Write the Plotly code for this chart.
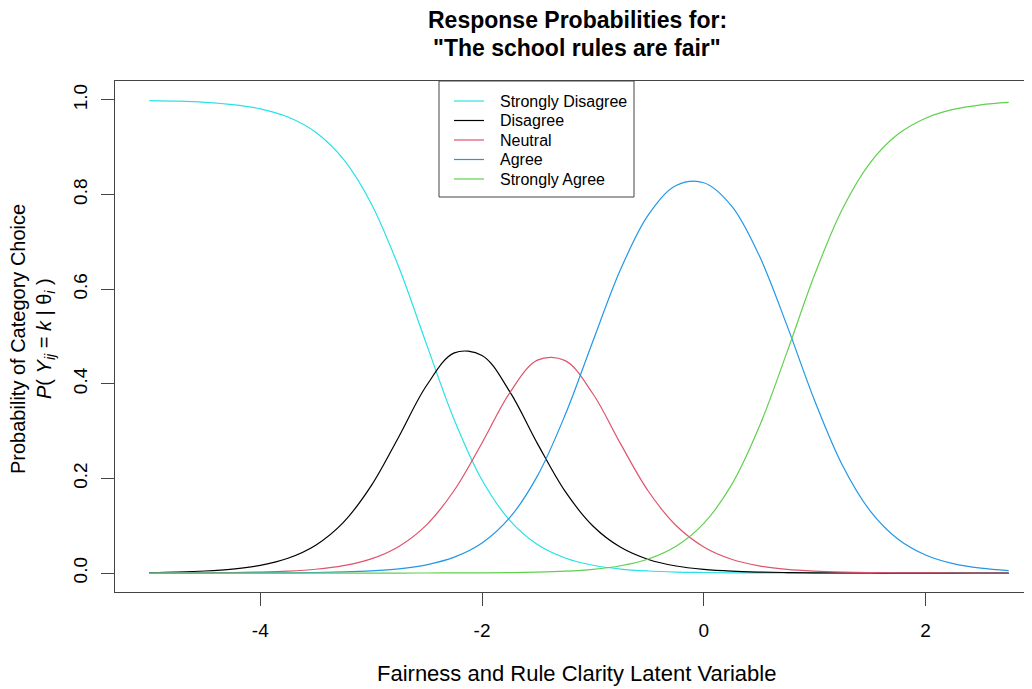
import plotly.graph_objects as go

# ---- data ----
categories = ["Strongly Disagree", "Disagree", "Neutral", "Agree", "Strongly Agree"]
colors = ["#28E2E5", "#000000", "#DF536B", "#2297E6", "#61D04F"]

theta = [-5.0, -4.75, -4.5, -4.25, -4.0, -3.75, -3.5, -3.25, -3.0, -2.75, -2.5, -2.25,
         -2.0, -1.75, -1.5, -1.25, -1.0, -0.75, -0.5, -0.25, 0.0, 0.25, 0.5, 0.75,
         1.0, 1.25, 1.5, 1.75, 2.0, 2.25, 2.5, 2.75]

strongly_disagree = [0.99868, 0.99743, 0.9950, 0.99027, 0.98116, 0.96383, 0.93168, 0.8747,
                     0.7812, 0.6463, 0.4833, 0.3237, 0.1967, 0.1114, 0.0602, 0.0318,
                     0.0165, 0.0085, 0.0044, 0.0022, 0.0012, 0.0006, 0.0003, 0.00015,
                     0.0001, 0.00004, 0.00002, 0.00001, 0.0, 0.0, 0.0, 0.0]
disagree = [0.00115, 0.00224, 0.00436, 0.00848, 0.01639, 0.03139, 0.05903, 0.1073,
            0.1842, 0.2883, 0.3964, 0.4653, 0.4599, 0.3834, 0.2736, 0.1725,
            0.0995, 0.0544, 0.0288, 0.0150, 0.0078, 0.0040, 0.0021, 0.0011,
            0.0005, 0.0003, 0.00014, 0.00007, 0.00004, 0.00002, 0.00001, 0.00001]
neutral = [0.00015, 0.00029, 0.00056, 0.00109, 0.00213, 0.00415, 0.00806, 0.01557,
           0.02991, 0.05635, 0.1020, 0.1750, 0.2750, 0.3810, 0.4500, 0.4490,
           0.3790, 0.2730, 0.1730, 0.1005, 0.0553, 0.0293, 0.0153, 0.0079,
           0.0041, 0.0021, 0.0011, 0.00055, 0.00028, 0.00014, 0.00007, 0.00004]
agree = [0.00002, 0.00004, 0.00008, 0.00016, 0.00032, 0.00063, 0.00122, 0.00238,
         0.00464, 0.00903, 0.0175, 0.03361, 0.06361, 0.1171, 0.2054, 0.3344,
         0.4900, 0.6420, 0.7570, 0.8190, 0.8250, 0.7760, 0.6710, 0.5235,
         0.3644, 0.2280, 0.1316, 0.0721, 0.0383, 0.0199, 0.0103, 0.0053]
strongly_agree = [0.0, 0.0, 0.0, 0.0, 0.0, 0.00001, 0.00001, 0.00002,
                  0.00004, 0.00007, 0.00014, 0.00028, 0.00055, 0.00108, 0.0021, 0.0041,
                  0.00797, 0.01546, 0.02977, 0.05658, 0.1049, 0.1863, 0.3092, 0.4665,
                  0.6309, 0.7696, 0.8672, 0.9273, 0.9614, 0.9799, 0.9896, 0.99465]

x_ticks = [-4, -2, 0, 2]
x_tick_labels = ["-4", "-2", "0", "2"]
y_ticks = [0.0, 0.2, 0.4, 0.6, 0.8, 1.0]
y_tick_labels = ["0.0", "0.2", "0.4", "0.6", "0.8", "1.0"]

title_lines = ["Response Probabilities for:", "\"The school rules are fair\""]
x_title = "Fairness and Rule Clarity Latent Variable"
y_title_1 = "Probability of Category Choice"
y_title_2 = "<i>P</i>( <i>Y</i><sub><i>ij</i></sub> = <i>k</i> | θ<sub><i>i</i></sub> )"

series = [strongly_disagree, disagree, neutral, agree, strongly_agree]

FONT = "Liberation Sans, Arial, sans-serif"
AXC = "#444444"

fig = go.Figure()
for name, ys, col in zip(categories, series, colors):
    fig.add_trace(go.Scatter(x=theta, y=ys, mode="lines", name=name,
                             line=dict(color=col, width=1.2, shape="spline", smoothing=1.0),
                             showlegend=False))

# page offset from the default 8px body margin
O = 8
W, H = 1032 - O, 689 - O
L, T = 115 - O, 81 - O
R_ = 0
B = H - (592 - O)
pw, ph = W - L - R_, H - T - B


def px_x(px):
    return (px - O - L) / pw


def px_y(py):
    return (H - B - (py - O)) / ph


fig.update_layout(
    width=W, height=H,
    margin=dict(l=L, r=R_, t=T, b=B, pad=0),
    plot_bgcolor="white", paper_bgcolor="white",
    font=dict(family=FONT, color="black"),
    showlegend=False,
    xaxis=dict(range=[-5.31, 2.96], tickvals=x_ticks, ticktext=x_tick_labels,
               showgrid=False, zeroline=False, showline=True, linecolor=AXC, linewidth=1,
               mirror=True, ticks="outside", ticklen=13, tickcolor=AXC, tickwidth=1,
               tickfont=dict(size=19, family=FONT, color="black"), ticklabelstandoff=8),
    yaxis=dict(range=[-0.04, 1.04], tickvals=y_ticks, ticktext=y_tick_labels,
               showgrid=False, zeroline=False, showline=True, linecolor=AXC, linewidth=1,
               ticks="outside", ticklen=13, tickcolor=AXC, tickwidth=1, tickangle=-90,
               tickfont=dict(size=19, family=FONT, color="black"), ticklabelstandoff=6),
)

ann = []
# title
ann.append(dict(text="<b>" + title_lines[0] + "</b>", x=px_x(577), y=px_y(20), xref="paper", yref="paper",
                xanchor="center", yanchor="middle", showarrow=False, font=dict(size=23, family=FONT)))
ann.append(dict(text="<b>" + title_lines[1] + "</b>", x=px_x(577), y=px_y(48), xref="paper", yref="paper",
                xanchor="center", yanchor="middle", showarrow=False, font=dict(size=23, family=FONT)))
# x title
ann.append(dict(text=x_title, x=px_x(576), y=px_y(673), xref="paper", yref="paper",
                xanchor="center", yanchor="middle", showarrow=False, font=dict(size=22, family=FONT)))
# y titles
ann.append(dict(text=y_title_1, x=px_x(18), y=px_y(339), xref="paper", yref="paper", textangle=-90,
                xanchor="center", yanchor="middle", showarrow=False, font=dict(size=20, family=FONT)))
ann.append(dict(text=y_title_2, x=px_x(45), y=px_y(339), xref="paper", yref="paper", textangle=-90,
                xanchor="center", yanchor="middle", showarrow=False, font=dict(size=20, family=FONT)))

# legend (box, line samples, labels)
shapes = [dict(type="rect", xref="paper", yref="paper", x0=px_x(439), x1=px_x(634),
               y0=px_y(197), y1=px_y(81), line=dict(color=AXC, width=1), fillcolor="white", layer="above")]
row_y = [101, 120.5, 140, 159.5, 179]
for name, col, ry in zip(categories, colors, row_y):
    shapes.append(dict(type="line", xref="paper", yref="paper", x0=px_x(454), x1=px_x(484),
                       y0=px_y(ry), y1=px_y(ry), line=dict(color=col, width=1.2), layer="above"))
    ann.append(dict(text=name, x=px_x(498), y=px_y(ry), xref="paper", yref="paper",
                    xanchor="left", yanchor="middle", showarrow=False, font=dict(size=16, family=FONT)))

fig.update_layout(annotations=ann, shapes=shapes)
fig.write_html("out.html")
